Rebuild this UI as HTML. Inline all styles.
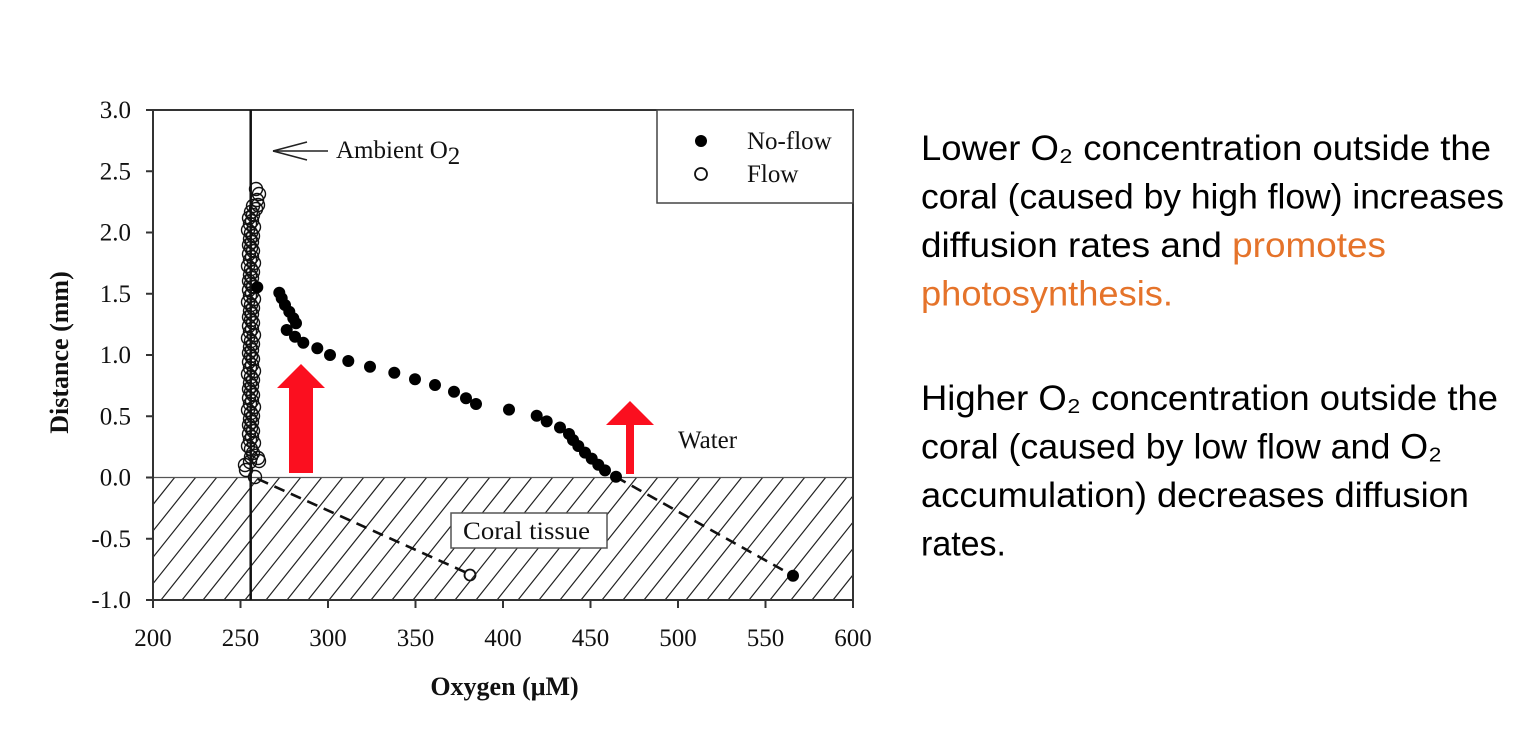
<!DOCTYPE html>
<html>
<head>
<meta charset="utf-8">
<style>
  html, body { margin:0; padding:0; background:#fff; }
  body { width:1529px; height:747px; overflow:hidden; }
  svg { display:block; }
  .serif { font-family:"Liberation Serif", "Times New Roman", serif; fill:#111; }
  .sans { font-family:"Liberation Sans", Arial, sans-serif; fill:#000; font-size:35px; }
</style>
</head>
<body>
<svg width="1529" height="747" viewBox="0 0 1529 747" xmlns="http://www.w3.org/2000/svg">
  <defs>
    <clipPath id="hatchClip"><rect x="153" y="477.5" width="700" height="122.5"/></clipPath>
  </defs>

  <!-- hatch (coral tissue region) -->
  <g clip-path="url(#hatchClip)" stroke="#222" stroke-width="1.2" fill="none">
    <path d="M154 477 L56 600 M175 477 L77 600 M196 477 L98 600 M217 477 L119 600 M238 477 L140 600 M259 477 L161 600 M280 477 L182 600 M301 477 L203 600 M322 477 L224 600 M343 477 L245 600 M364 477 L266 600 M385 477 L287 600 M406 477 L308 600 M427 477 L329 600 M448 477 L350 600 M469 477 L371 600 M490 477 L392 600 M511 477 L413 600 M532 477 L434 600 M553 477 L455 600 M574 477 L476 600 M595 477 L497 600 M616 477 L518 600 M637 477 L539 600 M658 477 L560 600 M679 477 L581 600 M700 477 L602 600 M721 477 L623 600 M742 477 L644 600 M763 477 L665 600 M784 477 L686 600 M805 477 L707 600 M826 477 L728 600 M847 477 L749 600 M868 477 L770 600 M889 477 L791 600 M910 477 L812 600 M931 477 L833 600 M952 477 L854 600"/>
  </g>
  <!-- zero line -->
  <line x1="153" y1="477.5" x2="853" y2="477.5" stroke="#555" stroke-width="1.2"/>

  <!-- frame -->
  <rect x="153" y="110" width="700" height="490" fill="none" stroke="#333" stroke-width="2"/>

  <!-- y ticks -->
  <g stroke="#333" stroke-width="2">
    <line x1="146" y1="110" x2="153" y2="110"/>
    <line x1="146" y1="171.25" x2="153" y2="171.25"/>
    <line x1="146" y1="232.5" x2="153" y2="232.5"/>
    <line x1="146" y1="293.75" x2="153" y2="293.75"/>
    <line x1="146" y1="355" x2="153" y2="355"/>
    <line x1="146" y1="416.25" x2="153" y2="416.25"/>
    <line x1="146" y1="477.5" x2="153" y2="477.5"/>
    <line x1="146" y1="538.75" x2="153" y2="538.75"/>
    <line x1="146" y1="600" x2="153" y2="600"/>
    <!-- x ticks -->
    <line x1="153" y1="600" x2="153" y2="608"/>
    <line x1="240.5" y1="600" x2="240.5" y2="608"/>
    <line x1="328" y1="600" x2="328" y2="608"/>
    <line x1="415.5" y1="600" x2="415.5" y2="608"/>
    <line x1="503" y1="600" x2="503" y2="608"/>
    <line x1="590.5" y1="600" x2="590.5" y2="608"/>
    <line x1="678" y1="600" x2="678" y2="608"/>
    <line x1="765.5" y1="600" x2="765.5" y2="608"/>
    <line x1="853" y1="600" x2="853" y2="608"/>
  </g>

  <!-- y tick labels -->
  <g class="serif" font-size="25" text-anchor="end">
    <text x="131" y="118">3.0</text>
    <text x="131" y="179.25">2.5</text>
    <text x="131" y="240.5">2.0</text>
    <text x="131" y="301.75">1.5</text>
    <text x="131" y="363">1.0</text>
    <text x="131" y="424.25">0.5</text>
    <text x="131" y="485.5">0.0</text>
    <text x="131" y="546.75">-0.5</text>
    <text x="131" y="608">-1.0</text>
  </g>
  <!-- x tick labels -->
  <g class="serif" font-size="25" text-anchor="middle">
    <text x="153" y="646">200</text>
    <text x="240.5" y="646">250</text>
    <text x="328" y="646">300</text>
    <text x="415.5" y="646">350</text>
    <text x="503" y="646">400</text>
    <text x="590.5" y="646">450</text>
    <text x="678" y="646">500</text>
    <text x="765.5" y="646">550</text>
    <text x="853" y="646">600</text>
  </g>

  <!-- axis titles -->
  <text class="serif" font-size="26" font-weight="bold" text-anchor="middle" transform="translate(68,352.5) rotate(-90)">Distance (mm)</text>
  <text class="serif" font-size="26" font-weight="bold" text-anchor="middle" x="504.5" y="695">Oxygen (μM)</text>

  <!-- ambient O2 vertical line -->
  <line x1="250.7" y1="110" x2="250.7" y2="600" stroke="#111" stroke-width="2.5"/>

  <!-- ambient label arrow -->
  <g stroke="#222" stroke-width="1.6" fill="none">
    <line x1="273" y1="151" x2="328" y2="151"/>
    <line x1="273" y1="151" x2="307" y2="142"/>
    <line x1="273" y1="151" x2="307" y2="160"/>
  </g>
  <text class="serif" font-size="25" x="336" y="158">Ambient O<tspan font-size="25" dy="6">2</tspan></text>

  <!-- dashed extrapolations -->
  <g stroke="#111" stroke-width="2.6" stroke-dasharray="11 7" fill="none">
    <line x1="616" y1="477" x2="793" y2="575.7"/>
    <line x1="258" y1="479" x2="467" y2="573"/>
  </g>

  <!-- Flow (open circles) -->
  <g fill="none" stroke="#111" stroke-width="1.4">
    <circle cx="256" cy="189" r="6.5"/><circle cx="259" cy="194" r="6.5"/><circle cx="257" cy="200" r="6.5"/>
    <circle cx="258" cy="205" r="6.5"/><circle cx="256" cy="209" r="6.5"/><circle cx="253" cy="206" r="6.5"/>
    <circle cx="251" cy="212" r="6.5"/><circle cx="253" cy="215" r="6.5"/><circle cx="249" cy="218" r="6.5"/>
    <circle cx="252" cy="221" r="6.5"/><circle cx="250" cy="224" r="6.5"/><circle cx="254" cy="227" r="6.5"/>
    <circle cx="248" cy="230" r="6.5"/><circle cx="251" cy="233" r="6.5"/><circle cx="253" cy="236" r="6.5"/>
    <circle cx="250" cy="239" r="6.5"/><circle cx="252" cy="242" r="6.5"/><circle cx="249" cy="245" r="6.5"/>
    <circle cx="251" cy="248" r="6.5"/><circle cx="253" cy="251" r="6.5"/><circle cx="249" cy="254" r="6.5"/>
    <circle cx="252" cy="257" r="6.5"/><circle cx="250" cy="260" r="6.5"/><circle cx="254" cy="263" r="6.5"/>
    <circle cx="248" cy="266" r="6.5"/><circle cx="251" cy="269" r="6.5"/><circle cx="253" cy="272" r="6.5"/>
    <circle cx="250" cy="275" r="6.5"/><circle cx="252" cy="278" r="6.5"/><circle cx="249" cy="281" r="6.5"/>
    <circle cx="251" cy="284" r="6.5"/><circle cx="253" cy="287" r="6.5"/><circle cx="249" cy="290" r="6.5"/>
    <circle cx="252" cy="293" r="6.5"/><circle cx="250" cy="296" r="6.5"/><circle cx="254" cy="299" r="6.5"/>
    <circle cx="248" cy="302" r="6.5"/><circle cx="251" cy="305" r="6.5"/><circle cx="253" cy="308" r="6.5"/>
    <circle cx="250" cy="311" r="6.5"/><circle cx="252" cy="314" r="6.5"/><circle cx="249" cy="317" r="6.5"/>
    <circle cx="251" cy="320" r="6.5"/><circle cx="253" cy="323" r="6.5"/><circle cx="249" cy="326" r="6.5"/>
    <circle cx="252" cy="329" r="6.5"/><circle cx="250" cy="332" r="6.5"/><circle cx="254" cy="335" r="6.5"/>
    <circle cx="248" cy="338" r="6.5"/><circle cx="251" cy="341" r="6.5"/><circle cx="253" cy="344" r="6.5"/>
    <circle cx="250" cy="347" r="6.5"/><circle cx="252" cy="350" r="6.5"/><circle cx="249" cy="353" r="6.5"/>
    <circle cx="251" cy="356" r="6.5"/><circle cx="253" cy="359" r="6.5"/><circle cx="249" cy="362" r="6.5"/>
    <circle cx="252" cy="365" r="6.5"/><circle cx="250" cy="368" r="6.5"/><circle cx="254" cy="371" r="6.5"/>
    <circle cx="248" cy="374" r="6.5"/><circle cx="251" cy="377" r="6.5"/><circle cx="253" cy="380" r="6.5"/>
    <circle cx="250" cy="383" r="6.5"/><circle cx="252" cy="386" r="6.5"/><circle cx="249" cy="389" r="6.5"/>
    <circle cx="251" cy="392" r="6.5"/><circle cx="253" cy="395" r="6.5"/><circle cx="249" cy="398" r="6.5"/>
    <circle cx="252" cy="401" r="6.5"/><circle cx="250" cy="404" r="6.5"/><circle cx="254" cy="407" r="6.5"/>
    <circle cx="248" cy="410" r="6.5"/><circle cx="251" cy="413" r="6.5"/><circle cx="253" cy="416" r="6.5"/>
    <circle cx="250" cy="419" r="6.5"/><circle cx="252" cy="422" r="6.5"/><circle cx="249" cy="425" r="6.5"/>
    <circle cx="251" cy="428" r="6.5"/><circle cx="253" cy="431" r="6.5"/><circle cx="249" cy="434" r="6.5"/>
    <circle cx="252" cy="437" r="6.5"/><circle cx="250" cy="440" r="6.5"/><circle cx="254" cy="443" r="6.5"/>
    <circle cx="248" cy="446" r="6.5"/><circle cx="251" cy="449" r="6.5"/>
    <circle cx="253" cy="453" r="6.5"/><circle cx="251" cy="457" r="6.5"/><circle cx="258" cy="458" r="6.5"/>
    <circle cx="259" cy="461" r="6.5"/><circle cx="250" cy="462" r="6.5"/><circle cx="245" cy="465" r="6.5"/>
    <circle cx="246" cy="470" r="6.5"/><circle cx="255" cy="477" r="6.5"/>
    <circle cx="470" cy="575" r="5.5" stroke-width="1.8"/>
  </g>

  <!-- No-flow (filled dots) -->
  <g fill="#000">
    <circle cx="257.3" cy="287.3" r="6"/>
    <circle cx="279.3" cy="292.7" r="6"/>
    <circle cx="281.7" cy="298.3" r="6"/>
    <circle cx="285" cy="305" r="6"/>
    <circle cx="289.3" cy="311.7" r="6"/>
    <circle cx="293.3" cy="318.3" r="6"/>
    <circle cx="296" cy="323.3" r="6"/>
    <circle cx="286.7" cy="330" r="6"/>
    <circle cx="295" cy="336.7" r="6"/>
    <circle cx="303.3" cy="342.7" r="6"/>
    <circle cx="317.3" cy="348.3" r="6"/>
    <circle cx="330" cy="355" r="6"/>
    <circle cx="348.3" cy="361" r="6"/>
    <circle cx="370" cy="366.7" r="6"/>
    <circle cx="394.3" cy="372.7" r="6"/>
    <circle cx="415" cy="379.3" r="6"/>
    <circle cx="435" cy="385" r="6"/>
    <circle cx="454" cy="391.7" r="6"/>
    <circle cx="466" cy="398.3" r="6"/>
    <circle cx="476" cy="404" r="6"/>
    <circle cx="509" cy="409.6" r="6"/>
    <circle cx="536.7" cy="415.7" r="6"/>
    <circle cx="546.7" cy="421.4" r="6"/>
    <circle cx="560" cy="427.5" r="6"/>
    <circle cx="569" cy="434" r="6"/>
    <circle cx="573" cy="440" r="6"/>
    <circle cx="578.3" cy="446" r="6"/>
    <circle cx="585" cy="452.6" r="6"/>
    <circle cx="591.7" cy="458.6" r="6"/>
    <circle cx="598.3" cy="464.7" r="6"/>
    <circle cx="605" cy="470.4" r="6"/>
    <circle cx="616" cy="476.8" r="6"/>
    <circle cx="793" cy="575.7" r="6"/>
  </g>

  <!-- red arrows -->
  <polygon fill="#FB0F1F" points="289,473 313,473 313,388 325,388 301,364 277,388 289,388"/>
  <polygon fill="#FB0F1F" points="626,474 634,474 634,425 654,425 630,401 606,425 626,425"/>

  <!-- Water label -->
  <text class="serif" font-size="25" x="678" y="448">Water</text>

  <!-- Coral tissue box -->
  <rect x="451" y="513" width="156" height="35" fill="#fff" stroke="#555" stroke-width="1.5"/>
  <text class="serif" font-size="25" x="463" y="539" textLength="127" lengthAdjust="spacingAndGlyphs">Coral tissue</text>

  <!-- legend -->
  <rect x="657" y="110" width="196" height="93" fill="#fff" stroke="#444" stroke-width="1.5"/>
  <circle cx="701" cy="141" r="6" fill="#000"/>
  <circle cx="701" cy="174" r="6" fill="none" stroke="#111" stroke-width="1.8"/>
  <text class="serif" font-size="25" x="747" y="149">No-flow</text>
  <text class="serif" font-size="25" x="747" y="182">Flow</text>

  <!-- right-side explanation text -->
  <text class="sans" x="921" y="160" textLength="570" lengthAdjust="spacingAndGlyphs">Lower O₂ concentration outside the</text>
  <text class="sans" x="921" y="208.5" textLength="583" lengthAdjust="spacingAndGlyphs">coral (caused by high flow) increases</text>
  <text class="sans" x="921" y="257" textLength="465" lengthAdjust="spacingAndGlyphs">diffusion rates and <tspan fill="#E5732A">promotes</tspan></text>
  <text class="sans" x="921" y="305.5" textLength="252" lengthAdjust="spacingAndGlyphs" fill="#E5732A" style="fill:#E5732A">photosynthesis.</text>

  <text class="sans" x="921" y="410" textLength="577" lengthAdjust="spacingAndGlyphs">Higher O₂ concentration outside the</text>
  <text class="sans" x="921" y="458.5" textLength="521" lengthAdjust="spacingAndGlyphs">coral (caused by low flow and O₂</text>
  <text class="sans" x="921" y="507" textLength="548" lengthAdjust="spacingAndGlyphs">accumulation) decreases diffusion</text>
  <text class="sans" x="921" y="555.5" textLength="85" lengthAdjust="spacingAndGlyphs">rates.</text>
</svg>
</body>
</html>
